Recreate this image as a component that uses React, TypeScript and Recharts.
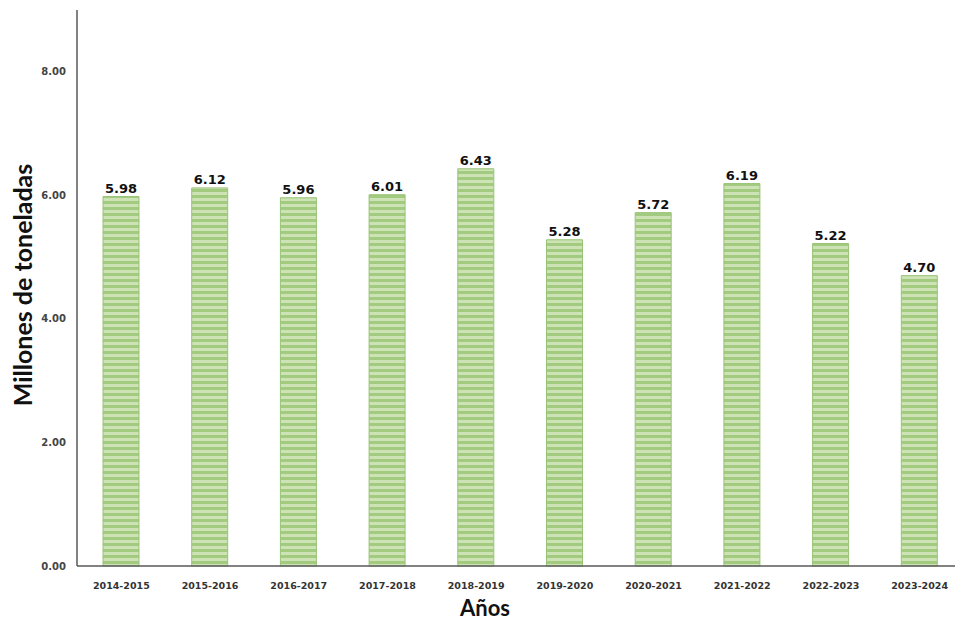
import React from 'react'
import { BarChart, Bar, XAxis, YAxis, LabelList } from 'recharts'

// harvest per season, millions of tonnes
const seasons = [
  '2014-2015', '2015-2016', '2016-2017', '2017-2018', '2018-2019',
  '2019-2020', '2020-2021', '2021-2022', '2022-2023', '2023-2024',
]
const tonnes = [5.98, 6.12, 5.96, 6.01, 6.43, 5.28, 5.72, 6.19, 5.22, 4.7]
const yTicks = [0, 2, 4, 6, 8]

const data = seasons.map((season, i) => ({ season, value: tonnes[i] }))

const axisGray = '#595959'
const tickFont = 'DejaVu Sans, sans-serif'
const titleFont = 'Lato, sans-serif'

const YTitle = (props: any) => {
  const { viewBox } = props
  const cx = 22
  const cy = viewBox.y + viewBox.height / 2 - 3
  return (
    <text
      x={cx}
      y={cy}
      transform={`rotate(-90 ${cx} ${cy})`}
      textAnchor="middle"
      dominantBaseline="central"
      fontFamily={titleFont}
      fontWeight={700}
      fontSize={25}
      fill="#111"
    >
      Millones de toneladas
    </text>
  )
}

const XTitle = (props: any) => {
  const { viewBox } = props
  return (
    <text
      x={485}
      y={viewBox.y + 50}
      textAnchor="middle"
      fontFamily={titleFont}
      fontWeight={700}
      fontSize={22}
      fill="#111"
    >
      Años
    </text>
  )
}

const App = () => {
  return (
    <div
      style={{
        position: 'absolute',
        left: 0,
        top: 0,
        width: 955,
        height: 623,
        overflow: 'hidden',
        background: '#fff',
      }}
    >
      <BarChart
        width={970}
        height={623}
        data={data}
        margin={{ top: 10, right: 6, left: 0, bottom: 0 }}
        barSize={36}
      >
        <defs>
          <pattern id="stripes" patternUnits="userSpaceOnUse" width={6} height={6}>
            <rect x={0} y={0} width={6} height={6} fill="#cde3b5" />
            <rect x={0} y={3} width={6} height={3} fill="#a2cb80" />
          </pattern>
        </defs>
        <XAxis
          dataKey="season"
          height={57}
          stroke={axisGray}
          strokeWidth={1.5}
          tickLine={false}
          tickMargin={10}
          interval={0}
          tick={{ fill: '#333', fontSize: 9.5, fontWeight: 700, fontFamily: tickFont }}
          label={<XTitle />}
        />
        <YAxis
          width={77}
          domain={[0, 9]}
          ticks={yTicks}
          tickFormatter={(v: number) => v.toFixed(2)}
          stroke={axisGray}
          strokeWidth={1.5}
          tickLine={false}
          tickMargin={5}
          tick={{ fill: '#444', fontSize: 10, fontWeight: 700, fontFamily: tickFont }}
          label={<YTitle />}
        />
        <Bar dataKey="value" fill="url(#stripes)" stroke="#98c377" strokeWidth={1} isAnimationActive={false}>
          <LabelList
            dataKey="value"
            position="top"
            offset={4}
            formatter={(v: any) => Number(v).toFixed(2)}
            style={{ fill: '#111', fontSize: 13, fontWeight: 700, fontFamily: tickFont }}
          />
        </Bar>
      </BarChart>
    </div>
  )
}

export default App
